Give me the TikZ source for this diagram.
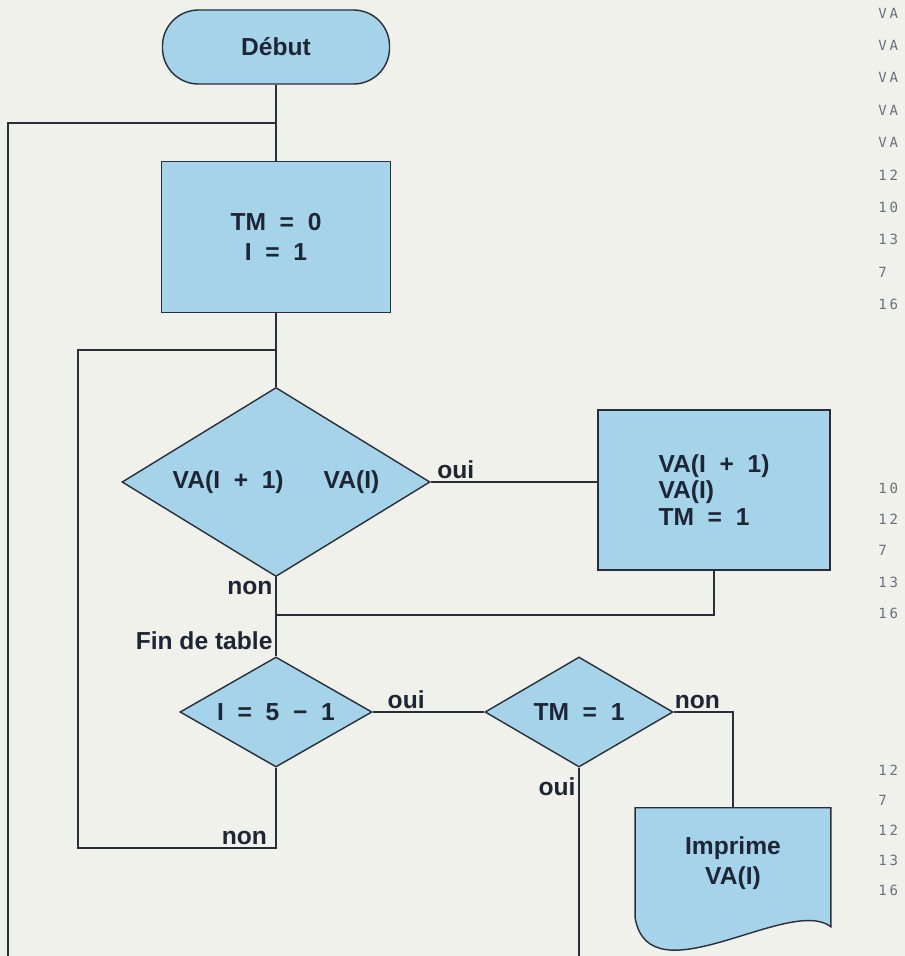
\documentclass[tikz,border=0pt]{standalone}
\usepackage{fontspec}
\setmainfont{Liberation Sans}
\newfontfamily\lstfont[LetterSpace=20]{DejaVu Sans Mono}
\usepackage{tikz}
\usetikzlibrary{positioning,shapes.geometric,backgrounds}
\definecolor{cPaper}{HTML}{F1F1EC}
\definecolor{cFill}{HTML}{A5D4EA}
\definecolor{cLine}{HTML}{2A2E38}
\definecolor{cInk}{HTML}{1E2636}
\definecolor{cList}{HTML}{6A707C}

\begin{document}
\begin{tikzpicture}[
    x=0.025cm, y=-0.025cm,
    font=\fontsize{17.5}{21}\selectfont\bfseries,
    base/.style={draw=cLine, fill=cFill, line width=1pt, text=cInk, inner sep=0pt},
    term/.style={base, rectangle, rounded corners=0.9cm,
      minimum width=5.675cm, minimum height=1.85cm},
    proc/.style={base, rectangle, align=center},
    test/.style={base, diamond},
    flow/.style={draw=cLine, line width=1pt},
    lbl/.style={text=cInk, inner sep=2pt},
    lst/.style={font=\lstfont\mdseries\fontsize{10}{12}\selectfont, text=cList,
      anchor=west, inner sep=0pt}]

    \begin{scope}[on background layer]
      \fill[cPaper] (0,0) rectangle (905,956);
    \end{scope}
    \useasboundingbox (0,0) rectangle (905,956);

    \node[term] (deb) at (276,47) {Début};
    \node[proc, minimum width=5.725cm, minimum height=3.775cm]
      (init) at (276,237) {TM\ \ =\ \ 0\\I\ \ =\ \ 1};
    \node[test, minimum width=7.7cm, minimum height=4.725cm, shape aspect=1.63]
      (cmp) at (276,482) {VA(I\ \ +\ \ 1)\hspace{1cm}VA(I)};
    \node[proc, align=left, minimum width=5.8cm, minimum height=4cm]
      (swp) at (714,490) {VA(I\ \ +\ \ 1)\\[-2pt]VA(I)\\[-2pt]TM\ \ =\ \ 1};
    \node[test, minimum width=4.8cm, minimum height=2.75cm, shape aspect=1.75]
      (fin) at (276,712) {I\ \ =\ \ 5\ \ −\ \ 1};
    \node[test, minimum width=4.7cm, minimum height=2.75cm, shape aspect=1.7]
      (flag) at (579,712) {TM\ \ =\ \ 1};
    \node[minimum width=4.875cm, minimum height=2.75cm, inner sep=0pt,
      text=cInk, align=center] (prt) at (733,863) {Imprime\\VA(I)};

    \begin{scope}[on background layer]
      \draw[flow, fill=cFill] (prt.north west) -- (prt.north east) -- ++(0,119)
        .. controls (790,895) and (650,1000) .. (prt.south west) -- cycle;
    \end{scope}

    \coordinate (mrg) at (276,615);
    \coordinate (ilb) at (78,848);
    \coordinate (ilt) at (78,350);
    \coordinate (ilj) at (276,350);
    \coordinate (olb) at (8,956);
    \coordinate (olt) at (8,123);
    \coordinate (olj) at (276,123);
    \coordinate (bot) at (579,956);

    \draw[flow] (deb) -- (init);
    \draw[flow] (init) -- (cmp);
    \draw[flow] (cmp.east) -- node[lbl, above, pos=0.15]{oui} (cmp.east -| swp.west);
    \draw[flow] (cmp) -- node[lbl, left, pos=0.14]{non}
      node[lbl, left, pos=0.8]{Fin de table} (fin);
    \draw[flow] (swp.south) |- (mrg);
    \draw[flow] (fin) -- node[lbl, above, pos=0.3]{oui} (flag);
    \draw[flow] (flag) -| node[lbl, above, pos=0.2]{non} (prt.north);
    \draw[flow] (flag) -- node[lbl, left, pos=0.1]{oui} (bot);
    \draw[flow] (fin) |- node[lbl, above left, pos=0.5, xshift=-4pt]{non} (ilb)
      -- (ilt) -- (ilj);
    \draw[flow] (olb) -- (olt) -- (olj);

    \foreach \t [count=\i] in {VA,VA,VA,VA,VA,12,10,13,7,16}
      \node[lst] (la\i) at (878,{13+32.4*(\i-1)}) {\t};
    \foreach \t [count=\i] in {10,12,7,13,16}
      \node[lst] (lb\i) at (878,{488+31.3*(\i-1)}) {\t};
    \foreach \t [count=\i] in {12,7,12,13,16}
      \node[lst] (lc\i) at (878,{770+30*(\i-1)}) {\t};
  \end{tikzpicture}
\end{document}
